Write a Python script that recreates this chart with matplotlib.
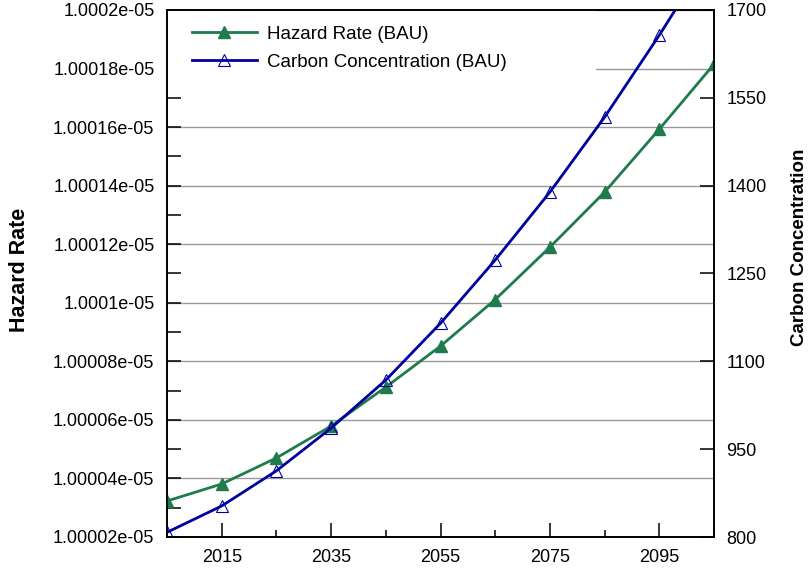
import matplotlib
matplotlib.use("Agg")
import matplotlib.pyplot as plt
from matplotlib.ticker import FixedLocator, FuncFormatter, MultipleLocator
from matplotlib.patches import Rectangle

plt.rcParams['font.family'] = ['Liberation Sans', 'DejaVu Sans']

# Séries BAU, un point tous les 10 ans
annees = [2005, 2015, 2025, 2035, 2045, 2055, 2065, 2075, 2085, 2095, 2105]
hazard = [1.0000323e-05, 1.0000381e-05, 1.0000470e-05, 1.0000579e-05,
          1.0000712e-05, 1.0000852e-05, 1.0001011e-05, 1.0001190e-05,
          1.0001378e-05, 1.0001593e-05, 1.0001815e-05]
carbone = [808, 853, 913, 986, 1068, 1165, 1273, 1389, 1517, 1657, 1805]

xticks_maj = [2015, 2035, 2055, 2075, 2095]
yticks_gauche = [1.00002e-05, 1.00004e-05, 1.00006e-05, 1.00008e-05, 1.0001e-05,
                 1.00012e-05, 1.00014e-05, 1.00016e-05, 1.00018e-05, 1.0002e-05]
yticks_droite = [800, 950, 1100, 1250, 1400, 1550, 1700]

vert = "#1f7a4c"
bleu = "#0000a0"

fig = plt.figure(figsize=(8.12, 5.74), dpi=100)
ax = fig.add_axes([167 / 812, 1 - 537 / 574, 547 / 812, 527 / 574])
ax2 = ax.twinx()

# Grille horizontale sur l'axe de gauche
ax.set_axisbelow(True)
ax.yaxis.grid(True, color="#999999", linewidth=1.0)

l1, = ax.plot(annees, hazard, color=vert, linewidth=2.0, marker="^",
              markersize=8, markerfacecolor=vert, markeredgecolor=vert,
              label="Hazard Rate (BAU)", zorder=3)
l2, = ax2.plot(annees, carbone, color=bleu, linewidth=2.0, marker="^",
               markersize=8.5, markerfacecolor="none", markeredgecolor=bleu,
               markeredgewidth=0.8, label="Carbon Concentration (BAU)", zorder=3)

# Fond blanc derrière la légende
ax.add_patch(Rectangle((0, 0.87), 0.784, 0.13, transform=ax.transAxes,
                       facecolor="white", edgecolor="none", zorder=1))

ax.set_xlim(2005, 2105)
ax.set_ylim(1.00002e-05, 1.0002e-05)
ax2.set_ylim(800, 1700)

ax.xaxis.set_major_locator(FixedLocator(xticks_maj))
ax.xaxis.set_minor_locator(MultipleLocator(20, offset=5))
ax.yaxis.set_major_locator(FixedLocator(yticks_gauche))
ax.yaxis.set_minor_locator(MultipleLocator(1e-10))
ax.yaxis.set_major_formatter(FuncFormatter(lambda v, p: "%g" % v))
ax2.yaxis.set_major_locator(FixedLocator(yticks_droite))

ax.tick_params(axis="both", which="both", direction="in", length=10,
               width=1.1, labelsize=13, pad=9, top=False, right=False)
ax.tick_params(axis="x", which="minor", length=5)
ax2.tick_params(axis="y", which="both", direction="in", length=10,
                width=1.1, labelsize=13, pad=9)

for a in (ax, ax2):
    for s in a.spines.values():
        s.set_linewidth(1.2)
        s.set_color("black")

fig.text(20 / 812, 1 - 270 / 574, "Hazard Rate", rotation=90, fontsize=15.5,
         fontweight="bold", ha="center", va="center")
fig.text(800 / 812, 1 - 247 / 574, "Carbon Concentration", rotation=90,
         fontsize=13.5, fontweight="bold", ha="center", va="center")

ax.legend(handles=[l1, l2], loc="upper left", bbox_to_anchor=(0.045, 0.97),
          frameon=False, fontsize=13.5, handlelength=3.5, handletextpad=0.5,
          labelspacing=0.58, borderpad=0, borderaxespad=0)

fig.savefig("out.png", dpi=100)
